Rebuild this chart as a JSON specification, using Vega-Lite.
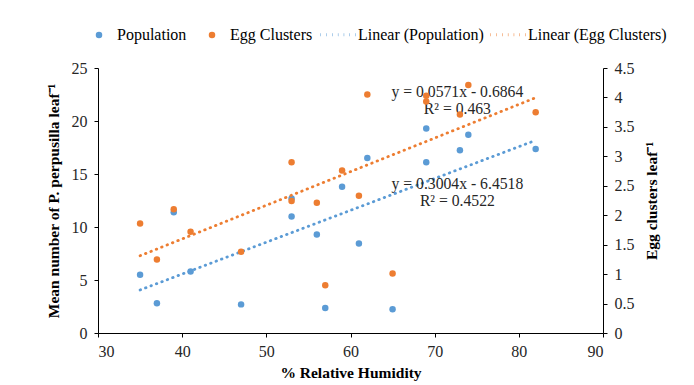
{
  "$schema": "https://vega.github.io/schema/vega-lite/v6.json",
  "width": 505,
  "height": 265,
  "autosize": {"type": "none"},
  "padding": {"left": 98, "top": 68, "right": 91, "bottom": 52},
  "background": "white",
  "config": {
    "font": "Liberation Serif",
    "view": {"stroke": null},
    "axis": {
      "grid": false,
      "domainColor": "#000000",
      "tickColor": "#000000",
      "labelFont": "Liberation Serif",
      "labelFontSize": 16,
      "labelColor": "#262626",
      "labelOverlap": false,
      "labelPadding": 6,
      "titleFont": "Liberation Serif",
      "titleFontSize": 15.5,
      "titleFontWeight": "bold",
      "titleColor": "#000000",
      "tickSize": 4
    },
    "legend": {
      "labelFont": "Liberation Serif",
      "labelFontSize": 16,
      "labelColor": "#000000",
      "title": null
    }
  },
  "datasets": {
    "pop": [
      {"rh": 35, "value": 5.5, "series": "Population"},
      {"rh": 37, "value": 2.8, "series": "Population"},
      {"rh": 39, "value": 11.4, "series": "Population"},
      {"rh": 41, "value": 5.8, "series": "Population"},
      {"rh": 47, "value": 2.7, "series": "Population"},
      {"rh": 53, "value": 11.0, "series": "Population"},
      {"rh": 53, "value": 12.7, "series": "Population"},
      {"rh": 56, "value": 9.3, "series": "Population"},
      {"rh": 57, "value": 2.35, "series": "Population"},
      {"rh": 59, "value": 13.8, "series": "Population"},
      {"rh": 61, "value": 8.45, "series": "Population"},
      {"rh": 62, "value": 16.5, "series": "Population"},
      {"rh": 65, "value": 2.25, "series": "Population"},
      {"rh": 69, "value": 19.3, "series": "Population"},
      {"rh": 69, "value": 16.1, "series": "Population"},
      {"rh": 73, "value": 17.25, "series": "Population"},
      {"rh": 74, "value": 18.7, "series": "Population"},
      {"rh": 82, "value": 17.35, "series": "Population"}
    ],
    "egg": [
      {"rh": 35, "value": 1.86, "series": "Egg Clusters"},
      {"rh": 37, "value": 1.25, "series": "Egg Clusters"},
      {"rh": 39, "value": 2.1, "series": "Egg Clusters"},
      {"rh": 41, "value": 1.72, "series": "Egg Clusters"},
      {"rh": 47, "value": 1.38, "series": "Egg Clusters"},
      {"rh": 53, "value": 2.9, "series": "Egg Clusters"},
      {"rh": 53, "value": 2.24, "series": "Egg Clusters"},
      {"rh": 56, "value": 2.21, "series": "Egg Clusters"},
      {"rh": 57, "value": 0.81, "series": "Egg Clusters"},
      {"rh": 59, "value": 2.76, "series": "Egg Clusters"},
      {"rh": 61, "value": 2.33, "series": "Egg Clusters"},
      {"rh": 62, "value": 4.05, "series": "Egg Clusters"},
      {"rh": 65, "value": 1.01, "series": "Egg Clusters"},
      {"rh": 69, "value": 4.03, "series": "Egg Clusters"},
      {"rh": 69, "value": 3.93, "series": "Egg Clusters"},
      {"rh": 73, "value": 3.71, "series": "Egg Clusters"},
      {"rh": 74, "value": 4.21, "series": "Egg Clusters"},
      {"rh": 82, "value": 3.75, "series": "Egg Clusters"}
    ],
    "popTrend": [
      {"rh": 35, "value": 4.06, "series": "Linear (Population)"},
      {"rh": 82, "value": 18.18, "series": "Linear (Population)"}
    ],
    "eggTrend": [
      {"rh": 35, "value": 1.312, "series": "Linear (Egg Clusters)"},
      {"rh": 82, "value": 3.996, "series": "Linear (Egg Clusters)"}
    ],
    "notes": [
      {"rh": 72.7, "value": 22.75, "label": "y = 0.0571x - 0.6864"},
      {"rh": 72.7, "value": 21.15, "label": "R² = 0.463"},
      {"rh": 72.7, "value": 14.05, "label": "y = 0.3004x - 6.4518"},
      {"rh": 72.7, "value": 12.45, "label": "R² = 0.4522"}
    ]
  },
  "resolve": {"scale": {"y": "independent"}},
  "layer": [
    {
      "layer": [
        {
          "data": {"name": "popTrend"},
          "mark": {"type": "line", "strokeWidth": 2.8, "strokeCap": "round", "strokeDash": [0.5, 5.3]},
          "encoding": {
            "x": {
              "field": "rh", "type": "quantitative",
              "scale": {"domain": [30, 90], "nice": false},
              "axis": {"tickCount": 6, "labelPadding": 6, "title": "% Relative Humidity", "titlePadding": 6}
            },
            "y": {
              "field": "value", "type": "quantitative",
              "scale": {"domain": [0, 25], "nice": false},
              "axis": {"tickCount": 5, "labelPadding": 7, "title": "Mean number of P. perpusilla leaf⁻¹", "titlePadding": 10}
            },
            "stroke": {
              "field": "series", "type": "nominal",
              "scale": {"domain": ["Linear (Population)", "Linear (Egg Clusters)"], "range": ["#5B9BD5", "#ED7D31"]},
              "legend": {
                "orient": "none", "direction": "horizontal", "legendX": 221, "legendY": -53,
                "symbolType": "stroke", "symbolSize": 1296, "symbolStrokeWidth": 2.8,
                "symbolDash": [0.5, 5.3], "labelOffset": 0, "columnPadding": 0
              }
            }
          }
        },
        {
          "data": {"name": "pop"},
          "mark": {"type": "point", "filled": true, "opacity": 1, "size": 42},
          "encoding": {
            "x": {"field": "rh", "type": "quantitative"},
            "y": {"field": "value", "type": "quantitative"},
            "color": {
              "field": "series", "type": "nominal",
              "scale": {"domain": ["Population", "Egg Clusters"], "range": ["#5B9BD5", "#ED7D31"]},
              "legend": {
                "orient": "none", "direction": "horizontal", "legendX": -7, "legendY": -41,
                "symbolType": "circle", "symbolSize": 42, "labelOffset": 10, "columnPadding": 17
              }
            }
          }
        },
        {
          "data": {"name": "notes"},
          "mark": {"type": "text", "font": "Liberation Serif", "fontSize": 15.7, "color": "#262626", "align": "center", "baseline": "middle"},
          "encoding": {
            "x": {"field": "rh", "type": "quantitative"},
            "y": {"field": "value", "type": "quantitative"},
            "text": {"field": "label", "type": "nominal"}
          }
        }
      ]
    },
    {
      "layer": [
        {
          "data": {"name": "eggTrend"},
          "mark": {"type": "line", "strokeWidth": 2.8, "strokeCap": "round", "strokeDash": [0.5, 5.3]},
          "encoding": {
            "x": {"field": "rh", "type": "quantitative"},
            "y": {
              "field": "value", "type": "quantitative",
              "scale": {"domain": [0, 4.5], "nice": false},
              "axis": {"orient": "right", "tickCount": 9, "labelPadding": 7, "labelExpr": "format(datum.value, '~g')", "title": "Egg clusters leaf⁻¹", "titleAngle": 270, "titlePadding": 25}
            },
            "stroke": {"field": "series", "type": "nominal"}
          }
        },
        {
          "data": {"name": "egg"},
          "mark": {"type": "point", "filled": true, "opacity": 1, "size": 42},
          "encoding": {
            "x": {"field": "rh", "type": "quantitative"},
            "y": {"field": "value", "type": "quantitative"},
            "color": {"field": "series", "type": "nominal"}
          }
        }
      ]
    }
  ]
}
